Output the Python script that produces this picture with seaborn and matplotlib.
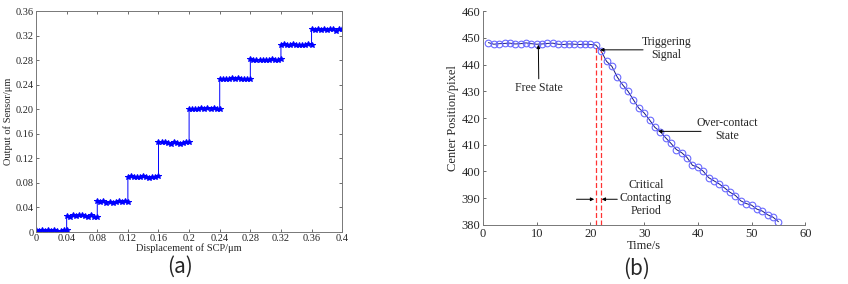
import matplotlib

matplotlib.use("Agg")
import matplotlib.pyplot as plt
import numpy as np
import pandas as pd
import seaborn as sns

# (a) step response: sensor output readings on each 0.04 um plateau
step_starts = [0.0, 0.04, 0.08, 0.12, 0.16, 0.20, 0.24, 0.28, 0.32, 0.36]
step_width = 0.04
step_readings = [
    [0.003, 0.002, 0.003, 0.002, 0.004, 0.002, 0.003, 0.001, 0.002, 0.003, 0.003],
    [0.026, 0.025, 0.027, 0.026, 0.028, 0.027, 0.026, 0.025, 0.027, 0.024, 0.025],
    [0.050, 0.049, 0.050, 0.048, 0.049, 0.048, 0.049, 0.050, 0.049, 0.050, 0.049],
    [0.089, 0.091, 0.090, 0.089, 0.090, 0.091, 0.089, 0.088, 0.089, 0.090, 0.091],
    [0.146, 0.147, 0.146, 0.145, 0.144, 0.146, 0.145, 0.144, 0.145, 0.146, 0.147],
    [0.201, 0.200, 0.201, 0.200, 0.202, 0.201, 0.202, 0.201, 0.202, 0.200, 0.200],
    [0.249, 0.250, 0.249, 0.250, 0.251, 0.250, 0.251, 0.250, 0.250, 0.249, 0.249],
    [0.282, 0.281, 0.280, 0.281, 0.281, 0.280, 0.281, 0.282, 0.280, 0.280, 0.282],
    [0.305, 0.306, 0.304, 0.305, 0.306, 0.305, 0.304, 0.305, 0.305, 0.306, 0.305],
    [0.330, 0.329, 0.330, 0.329, 0.330, 0.329, 0.331, 0.330, 0.328, 0.330, 0.331],
]
a_xticks = [0, 0.04, 0.08, 0.12, 0.16, 0.2, 0.24, 0.28, 0.32, 0.36, 0.4]
a_xticklabels = ["0", "0.04", "0.08", "0.12", "0.16", "0.2", "0.24", "0.28", "0.32", "0.36", "0.4"]
a_yticks = [0, 0.04, 0.08, 0.12, 0.16, 0.20, 0.24, 0.28, 0.32, 0.36]
a_yticklabels = ["0", "0.04", "0.08", "0.12", "0.16", "0.20", "0.24", "0.28", "0.32", "0.36"]

# (b) center position of the contact point over time
time_s = list(range(1, 56))
center_px = [
    448.2, 447.6, 447.8, 447.9, 448.0, 447.7, 447.8, 448.1, 447.8, 447.6,
    447.7, 447.9, 448.0, 447.6, 447.5, 447.7, 447.6, 447.5, 447.6, 447.5,
    447.3, 445.0, 441.2, 439.3, 435.3, 432.4, 430.0, 426.8, 423.7, 421.9,
    419.3, 416.5, 414.9, 412.6, 410.5, 408.2, 407.0, 405.2, 402.3, 401.6,
    400.1, 397.7, 396.5, 395.3, 393.8, 392.2, 391.0, 389.0, 388.0, 387.4,
    385.9, 385.2, 383.8, 382.9, 381.2,
]
trigger_times = [21, 22]
trigger_tops = [447.3, 445.0]

sns.set_theme(style="white")
plt.rcParams["font.family"] = ["Liberation Serif", "DejaVu Serif"]
plt.rcParams["xtick.direction"] = "in"
plt.rcParams["ytick.direction"] = "in"

fig = plt.figure(figsize=(8.48, 2.84), dpi=100)
ax_a = fig.add_axes([0.0425, 0.183, 0.361, 0.778])
ax_b = fig.add_axes([0.5696, 0.208, 0.380, 0.753])

# ---- panel (a)
rows = []
for start, vals in zip(step_starts, step_readings):
    xs = np.linspace(start, start + step_width, len(vals))
    rows += [{"disp": x, "out": v} for x, v in zip(xs, vals)]
df_a = pd.DataFrame(rows)
sns.lineplot(data=df_a, x="disp", y="out", ax=ax_a, estimator=None, sort=False,
             color="#0000ff", lw=0.7, marker="*", markersize=4.2,
             markeredgecolor="#0000ff", markerfacecolor="#0000ff")
ax_a.set_xlim(0, 0.4)
ax_a.set_ylim(0, 0.36)
ax_a.set_xticks(a_xticks)
ax_a.set_xticklabels(a_xticklabels)
ax_a.set_yticks(a_yticks)
ax_a.set_yticklabels(a_yticklabels)
ax_a.tick_params(labelsize=7.5, length=2.5, width=0.6, pad=1.5, color="#555555",
                 top=True, right=True, bottom=True, left=True)
ax_a.set_xlabel("Displacement of SCP/μm", fontsize=7.5, labelpad=0)
ax_a.set_ylabel("Output of Sensor/μm", fontsize=7.5, labelpad=2)
for s in ax_a.spines.values():
    s.set_color("#777777")
    s.set_linewidth(0.7)

# ---- panel (b)
df_b = pd.DataFrame({"t": time_s, "pos": center_px})
sns.lineplot(data=df_b, x="t", y="pos", ax=ax_b, color="#1a1a80", lw=0.7,
             marker="o", markersize=4.8, markerfacecolor="none",
             markeredgecolor="#6a6aff", markeredgewidth=0.8)
for t, top in zip(trigger_times, trigger_tops):
    ax_b.plot([t, t], [380, top], color="#ff3333", ls="--", lw=0.9, dashes=(4, 2))
ax_b.set_xlim(0, 60)
ax_b.set_ylim(380, 460)
ax_b.set_xticks(range(0, 61, 10))
ax_b.set_yticks(range(380, 461, 10))
ax_b.tick_params(labelsize=9, length=2.5, width=0.6, pad=2, color="#555555",
                 bottom=True, left=True)
ax_b.set_xlabel("Time/s", fontsize=9, labelpad=0)
ax_b.set_ylabel("Center Position/pixel", fontsize=9, labelpad=2)
sns.despine(ax=ax_b)
for s in ("left", "bottom"):
    ax_b.spines[s].set_color("#777777")
    ax_b.spines[s].set_linewidth(0.7)

arrow = dict(arrowstyle="-|>", color="black", lw=0.7, mutation_scale=5,
             shrinkA=0, shrinkB=0)
ax_b.annotate("Free State", xy=(10.3, 447.4), xytext=(10.4, 431.2),
              fontsize=8.5, ha="center", va="center", arrowprops=arrow)
ax_b.annotate("", xy=(21.8, 445.5), xytext=(29.8, 445.5), arrowprops=arrow)
ax_b.text(34.2, 446.0, "Triggering\nSignal", fontsize=8.5, ha="center", va="center",
          linespacing=1.1)
ax_b.annotate("", xy=(32.6, 415.0), xytext=(40.6, 415.0), arrowprops=arrow)
ax_b.text(45.4, 415.8, "Over-contact\nState", fontsize=8.5, ha="center", va="center",
          linespacing=1.1)
ax_b.annotate("", xy=(20.7, 389.6), xytext=(17.4, 389.6), arrowprops=arrow)
ax_b.annotate("", xy=(22.1, 389.6), xytext=(25.0, 389.6), arrowprops=arrow)
ax_b.text(30.3, 390.2, "Critical\nContacting\nPeriod", fontsize=8.5, ha="center",
          va="center", linespacing=1.1)

fig.text(180 / 848, 1 - 267 / 284, "(a)", fontsize=15, ha="center", va="center",
         family=["Noto Sans CJK SC", "DejaVu Sans"])
fig.text(637 / 848, 1 - 269 / 284, "(b)", fontsize=15, ha="center", va="center",
         family=["Noto Sans CJK SC", "DejaVu Sans"])

fig.savefig("out.png", dpi=100)
plt.close(fig)
